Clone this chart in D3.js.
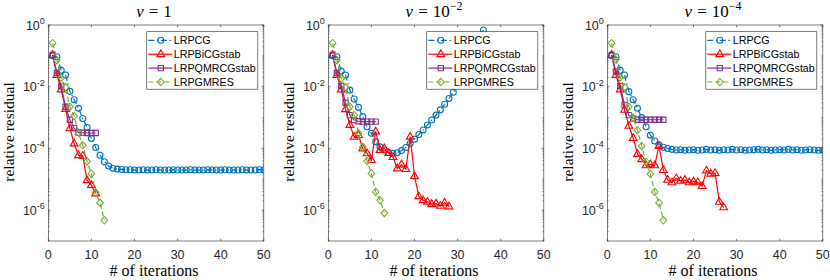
<!DOCTYPE html>
<html>
<head>
<meta charset="utf-8">
<script src="https://cdn.jsdelivr.net/npm/d3@7/dist/d3.min.js"></script>
<style>
  body { margin: 0; background: #fff; }
  svg { display: block; }
</style>
</head>
<body>
<svg id="chart" width="830" height="280"></svg>
<script>
// tick values / labels
const iterTicks = [0, 10, 20, 30, 40, 50];
const decadeLabels = [0, -2, -4, -6];
const seriesNames = ["LRPCG", "LRPBiCGstab", "LRPQMRCGstab", "LRPGMRES"];
const seriesColors = ["#0072BD", "#FF0000", "#7E2F8E", "#77AC30"];
const panelExps = [null, "\u22122", "\u22124"]; // nu = 1, 10^-2, 10^-4

// log10(relative residual) for iterations 1, 2, 3, ...
// nu = 1
const cgNu1 = [-1.00, -1.03, -1.47, -1.62, -2.15, -2.42, -2.70, -3.03, -3.32, -3.68,
  -3.97, -4.22, -4.43, -4.57, -4.64, -4.67, -4.68, -4.69, -4.69, -4.70,
  -4.70, -4.69, -4.70, -4.70, -4.69, -4.70, -4.70, -4.70, -4.69, -4.70,
  -4.70, -4.70, -4.69, -4.70, -4.70, -4.70, -4.69, -4.70, -4.70, -4.70,
  -4.69, -4.70, -4.70, -4.70, -4.69, -4.70, -4.70, -4.70, -4.69, -4.70];
const bicgNu1 = [-0.97, -1.62, -2.09, -2.72, -3.35, -3.84, -4.22, -4.24, -5.03, -5.19, -5.46];
const qmrNu1 = [-0.97, -1.55, -1.99, -2.65, -3.07, -3.34, -3.49, -3.49, -3.50, -3.50, -3.50];
const gmresNu1 = [-0.59, -1.14, -1.71, -2.02, -2.65, -2.95, -3.49, -3.90, -4.42, -4.82, -5.43, -5.76, -6.33];

// nu = 1e-2
const cgNu2 = [-1.00, -1.03, -1.49, -1.62, -2.11, -2.40, -2.67, -2.97, -3.30, -3.51,
  -3.78, -3.95, -4.05, -4.13, -4.16, -4.14, -4.07, -3.97, -3.84, -3.70,
  -3.55, -3.40, -3.24, -3.08, -2.92, -2.75, -2.57, -2.38, -2.18, -1.97,
  -1.70, -1.42, -1.13, -0.83, -0.50, -0.16];
const bicgNu2 = [-0.97, -1.62, -2.09, -2.73, -3.24, -3.62, -3.57, -4.00, -4.16, -4.38,
  -3.45, -4.05, -4.00, -4.15, -4.28, -4.65, -4.52, -4.67, -3.62, -4.90,
  -5.55, -5.68, -5.73, -5.80, -5.79, -5.86, -5.76, -5.88];
const qmrNu2 = [-0.97, -1.55, -1.98, -2.52, -2.92, -3.08, -3.12, -3.13, -3.13, -3.13, -3.13];
const gmresNu2 = [-0.59, -1.14, -1.73, -2.02, -2.65, -2.92, -3.51, -3.95, -4.41, -4.81, -5.41, -5.68, -6.09];

// nu = 1e-4
const cgNu4 = [-1.00, -1.03, -1.47, -1.62, -2.16, -2.42, -2.70, -3.00, -3.30, -3.57,
  -3.76, -3.88, -3.96, -4.00, -4.03, -4.05, -4.04, -4.06, -4.05, -4.04,
  -4.06, -4.05, -4.03, -4.05, -4.04, -4.06, -4.04, -4.05, -4.03, -4.05,
  -4.04, -4.06, -4.05, -4.04, -4.03, -4.05, -4.04, -4.06, -4.05, -4.04,
  -4.05, -4.03, -4.05, -4.04, -4.06, -4.05, -4.04, -4.05, -4.06, -4.05];
const bicgNu4 = [-0.97, -1.62, -2.09, -2.75, -3.27, -3.66, -4.18, -4.35, -4.55, -4.52,
  -4.55, -3.92, -4.70, -5.02, -5.10, -4.97, -5.05, -5.02, -5.10, -5.07,
  -5.10, -5.22, -4.72, -4.82, -4.80, -5.73, -5.91];
const qmrNu4 = [-0.97, -1.51, -1.98, -2.59, -2.92, -3.03, -3.07, -3.07, -3.07, -3.07, -3.07, -3.07, -3.07];
const gmresNu4 = [-0.59, -1.12, -1.70, -2.02, -2.65, -3.00, -3.41, -3.92, -4.43, -4.83, -5.41, -5.76, -6.33];

const panelData = [
  [cgNu1, bicgNu1, qmrNu1, gmresNu1],
  [cgNu2, bicgNu2, qmrNu2, gmresNu2],
  [cgNu4, bicgNu4, qmrNu4, gmresNu4]
];

const svg = d3.select("#chart");
const axisColor = "#262626";
const sans = "Liberation Sans, Arial, sans-serif";
const serif = "Liberation Serif, Times New Roman, serif";
const panelLeft = [48.3, 328.3, 607.3];
const plotW = 215.5, plotTop = 25, plotBottom = 241;
const dashes = ["6,2.5,1.5,2.5", null, null, "5,3"];

// marker paths centred on 0,0
let markerPath = (k) => {
  if (k === 0) return d3.symbol(d3.symbolCircle, 28)();
  if (k === 1) return "M0,-4.3L3.9,2.4L-3.9,2.4Z";
  if (k === 2) return "M-2.6,-2.6H2.6V2.6H-2.6Z";
  return "M0,-3.7L3.3,0L0,3.7L-3.3,0Z";
};

panelData.forEach((series, p) => {
  const left = panelLeft[p];
  const x = d3.scaleLinear().domain([0, 50]).range([left, left + plotW]);
  const y = d3.scaleLog().domain([1e-7, 1]).range([plotBottom, plotTop]);
  const g = svg.append("g");

  // minor y ticks
  const minor = [];
  for (let k = -7; k < 0; k++) {
    for (let m = 1; m < 10; m++) {
      if (m === 1 && k % 2 === 0) continue;
      minor.push(m * Math.pow(10, k));
    }
  }
  minor.forEach((v) => {
    [left, left + plotW].forEach((ax, s) => {
      g.append("line")
        .attr("x1", ax).attr("x2", s === 0 ? ax + 1.4 : ax - 1.4)
        .attr("y1", y(v)).attr("y2", y(v))
        .attr("stroke", axisColor).attr("stroke-width", 0.5);
    });
  });
  // major y ticks
  [1, 1e-2, 1e-4, 1e-6].forEach((v) => {
    [left, left + plotW].forEach((ax, s) => {
      g.append("line")
        .attr("x1", ax).attr("x2", s === 0 ? ax + 2.2 : ax - 2.2)
        .attr("y1", y(v)).attr("y2", y(v))
        .attr("stroke", axisColor).attr("stroke-width", 0.6);
    });
  });
  // x ticks top and bottom
  iterTicks.forEach((t) => {
    g.append("line").attr("x1", x(t)).attr("x2", x(t))
      .attr("y1", plotBottom).attr("y2", plotBottom - 2.2)
      .attr("stroke", axisColor).attr("stroke-width", 0.6);
    g.append("line").attr("x1", x(t)).attr("x2", x(t))
      .attr("y1", plotTop).attr("y2", plotTop + 2.2)
      .attr("stroke", axisColor).attr("stroke-width", 0.6);
    g.append("text").attr("x", x(t)).attr("y", plotBottom + 17.5)
      .attr("text-anchor", "middle")
      .attr("font-family", sans)
      .attr("font-size", 12.5).attr("fill", axisColor)
      .text(t);
  });
  // y tick labels 10^k
  decadeLabels.forEach((e) => {
    const ty = y(Math.pow(10, e));
    const t = g.append("text")
      .attr("x", left - 3.5).attr("y", ty + 4.5)
      .attr("text-anchor", "end")
      .attr("font-family", sans)
      .attr("font-size", 12.5).attr("fill", axisColor);
    t.append("tspan").text("10");
    t.append("tspan").attr("dy", -5.5).attr("font-size", 9)
      .text(e === 0 ? "0" : "-" + (-e));
  });

  // clip
  const clipId = "clip" + p;
  svg.append("clipPath").attr("id", clipId).append("rect")
    .attr("x", left).attr("y", plotTop).attr("width", plotW).attr("height", plotBottom - plotTop);

  const line = d3.line().x((d, i) => x(i + 1)).y((d) => y(Math.pow(10, d)));
  series.forEach((vals, k) => {
    const sg = g.append("g").attr("clip-path", "url(#" + clipId + ")");
    sg.append("path").datum(vals)
      .attr("d", line)
      .attr("fill", "none")
      .attr("stroke", seriesColors[k])
      .attr("stroke-width", 1.2)
      .attr("stroke-dasharray", dashes[k]);
    sg.selectAll("path.mk").data(vals).enter().append("path")
      .attr("class", "mk")
      .attr("d", markerPath(k))
      .attr("transform", (d, i) => "translate(" + x(i + 1) + "," + y(Math.pow(10, d)) + ")")
      .attr("fill", "none")
      .attr("stroke", seriesColors[k])
      .attr("stroke-width", 1.1);
  });

  // box
  g.append("rect").attr("x", left).attr("y", plotTop)
    .attr("width", plotW).attr("height", plotBottom - plotTop)
    .attr("fill", "none").attr("stroke", axisColor).attr("stroke-width", 0.6);

  // legend
  const lw = 111, lh = 57.5;
  const lx = left + plotW - 6 - lw, ly = plotTop + 6.7;
  const lg = g.append("g");
  lg.append("rect").attr("x", lx).attr("y", ly).attr("width", lw).attr("height", lh)
    .attr("fill", "#fff").attr("stroke", axisColor).attr("stroke-width", 0.6);
  seriesNames.forEach((name, k) => {
    const ry = ly + 8.6 + k * 13.9;
    lg.append("line").attr("x1", lx + 1.5).attr("x2", lx + 25.5)
      .attr("y1", ry).attr("y2", ry)
      .attr("stroke", seriesColors[k]).attr("stroke-width", 1.2)
      .attr("stroke-dasharray", dashes[k]);
    lg.append("path").attr("d", markerPath(k))
      .attr("transform", "translate(" + (lx + 14) + "," + ry + ")")
      .attr("fill", "none").attr("stroke", seriesColors[k]).attr("stroke-width", 1.1);
    lg.append("text").attr("x", lx + 27).attr("y", ry + 3.8)
      .attr("font-family", sans)
      .attr("font-size", 10.7).attr("fill", "#000")
      .text(name);
  });

  // title
  const cx = left + plotW / 2 - 2;
  const title = g.append("text").attr("x", cx).attr("y", 16.5)
    .attr("text-anchor", "middle")
    .attr("font-family", serif)
    .attr("font-size", 17).attr("fill", "#000");
  title.append("tspan").attr("font-style", "italic").text("\u03bd");
  title.append("tspan").attr("dx", 5).text("=");
  title.append("tspan").attr("dx", 5).text(panelExps[p] ? "10" : "1");
  if (panelExps[p]) {
    title.append("tspan").attr("dy", -6.5).attr("font-size", 12).text(panelExps[p]);
  }

  // axis labels
  g.append("text").attr("x", left + plotW / 2 - 2).attr("y", 276)
    .attr("text-anchor", "middle")
    .attr("font-family", serif)
    .attr("font-size", 16).attr("fill", "#000")
    .text("# of iterations");
  g.append("text")
    .attr("transform", "translate(" + (left - 34) + "," + ((plotTop + plotBottom) / 2 - 1) + ") rotate(-90)")
    .attr("text-anchor", "middle")
    .attr("font-family", serif)
    .attr("font-size", 15.5).attr("fill", "#000")
    .text("relative residual");
});
</script>
</body>
</html>
